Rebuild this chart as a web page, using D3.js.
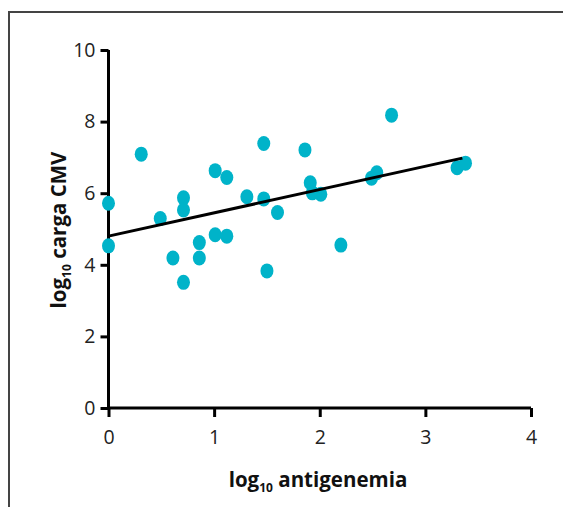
<!DOCTYPE html>
<html>
<head>
<meta charset="utf-8">
<script src="https://cdn.jsdelivr.net/npm/d3@7"></script>
<style>
  body { margin: 0; background: #fff; }
  svg { display: block; font-family: "Open Sans", "Noto Sans", sans-serif; }
</style>
</head>
<body>
<div id="chart"></div>
<script>
// datos
const antigenemia = [0, 0, 0.31, 0.49, 0.61, 0.71, 0.71, 0.71, 0.86, 0.86,
  1.01, 1.01, 1.12, 1.12, 1.31, 1.47, 1.47, 1.50, 1.60, 1.86,
  1.91, 1.93, 2.01, 2.20, 2.49, 2.54, 2.68, 3.30, 3.38];
const cargaCMV = [5.72, 4.53, 7.09, 5.29, 4.19, 5.87, 5.53, 3.51, 4.62, 4.19,
  6.63, 4.84, 6.44, 4.80, 5.90, 7.39, 5.84, 3.83, 5.46, 7.21,
  6.29, 6.01, 5.97, 4.55, 6.42, 6.57, 8.18, 6.71, 6.84];
// recta de regresión (extremos)
const lineX = [0, 3.35];
const lineY = [4.80, 6.98];
const xTicks = [0, 1, 2, 3, 4];
const yTicks = [0, 2, 4, 6, 8, 10];

const width = 563, height = 507;
const svg = d3.select("#chart").append("svg")
  .attr("width", width).attr("height", height);

// marco
svg.append("path")
  .attr("d", `M9,${height} V12 H${width}`)
  .attr("fill", "none").attr("stroke", "#444").attr("stroke-width", 2);

const x = d3.scaleLinear().domain([0, 4]).range([108.5, 531]);
const y = d3.scaleLinear().domain([0, 10]).range([408, 50]);

// ejes
const xAxis = svg.append("g")
  .attr("transform", `translate(0,${y(0)})`)
  .call(d3.axisBottom(x).tickValues(xTicks).tickSize(9).tickPadding(13).tickFormat(d3.format("d")));
const yAxis = svg.append("g")
  .attr("transform", `translate(${x(0)},0)`)
  .call(d3.axisLeft(y).tickValues(yTicks).tickSize(8).tickPadding(5).tickFormat(d3.format("d")));

[xAxis, yAxis].forEach(g => {
  g.select(".domain").attr("stroke", "#000").attr("stroke-width", 3);
  g.selectAll(".tick line").attr("stroke", "#000").attr("stroke-width", 3);
  g.selectAll(".tick text").attr("fill", "#222").style("font-size", "19.5px")
    .style("font-family", "'Open Sans', sans-serif");
});
xAxis.select(".domain").attr("d", `M${x(0)},0H${x(4)}`);
yAxis.select(".domain").attr("d", `M0,${y(10)}V${y(0)}`);

// puntos
svg.append("g").selectAll("ellipse")
  .data(antigenemia.map((v, i) => [v, cargaCMV[i]]))
  .enter().append("ellipse")
  .attr("cx", d => x(d[0]))
  .attr("cy", d => y(d[1]))
  .attr("rx", 6.5).attr("ry", 7.5)
  .attr("fill", "#00b3c9");

// recta
svg.append("line")
  .attr("x1", x(lineX[0])).attr("y1", y(lineY[0]))
  .attr("x2", x(lineX[1])).attr("y2", y(lineY[1]))
  .attr("stroke", "#000").attr("stroke-width", 3);

// títulos
const xt = svg.append("text")
  .attr("x", 318).attr("y", 487)
  .attr("text-anchor", "middle")
  .style("font-size", "20.5px").style("font-weight", "bold").attr("fill", "#111");
xt.append("tspan").text("log");
xt.append("tspan").attr("dy", 5).style("font-size", "12px").text("10");
xt.append("tspan").attr("dy", -5).text(" antigenemia");

const yt = svg.append("text")
  .attr("transform", "translate(66,230) rotate(-90)")
  .attr("text-anchor", "middle")
  .style("font-size", "20.5px").style("font-weight", "bold").attr("fill", "#111");
yt.append("tspan").text("log");
yt.append("tspan").attr("dy", 5).style("font-size", "12px").text("10");
yt.append("tspan").attr("dy", -5).text(" carga CMV");
</script>
</body>
</html>
